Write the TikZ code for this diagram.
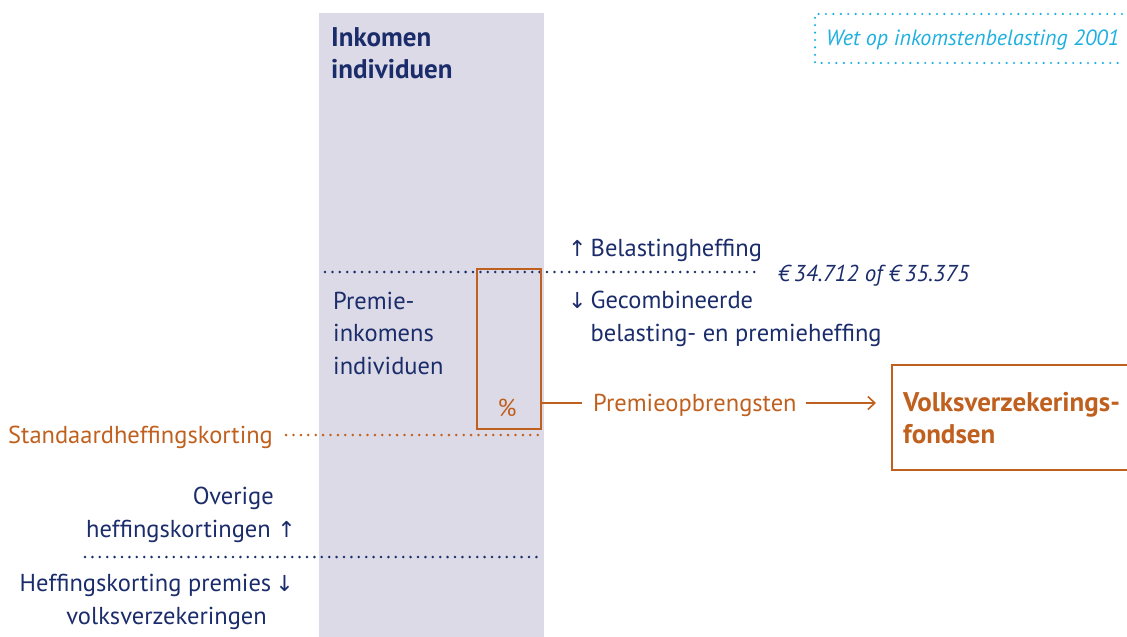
\documentclass[tikz,border=0pt]{standalone}
\usepackage{fontspec}
\setmainfont{PT Sans}
\newfontfamily\arr{DejaVu Sans}
\usetikzlibrary{arrows.meta}
\definecolor{navy}{HTML}{1B2C6B}
\definecolor{oran}{HTML}{C0601F}
\definecolor{cyanx}{HTML}{1EB0E0}
\definecolor{colgray}{HTML}{DCDAE7}
\newcommand{\up}{{\arr\fontsize{22}{30}\selectfont ↑}}
\newcommand{\dn}{{\arr\fontsize{22}{30}\selectfont ↓}}
\tikzset{
  txt/.style={inner sep=0pt, font=\fontsize{24.5}{32.5}\selectfont, text=navy},
  btxt/.style={inner sep=0pt, font=\fontsize{27}{32}\selectfont\bfseries},
  otxt/.style={txt, text=oran},
  dotline/.style={line width=2.8pt, line cap=round, dash pattern=on 0pt off 7.4pt},
  ndot/.style={dotline, draw=navy},
  odot/.style={dotline, draw=oran},
  cdot/.style={dotline, draw=cyanx, line width=2.4pt},
  obox/.style={draw=oran, line width=1.6pt},
}
\begin{document}
\begin{tikzpicture}[x=1pt,y=-1pt]
\useasboundingbox (0,0) rectangle (1127,637);
% gray column
\fill[colgray] (319,13) rectangle (544,637);
\node[btxt, text=navy, anchor=base west, align=left] (inkomen) at (331,78) {Inkomen\\individuen};
% top right source box
\coordinate (s1) at (1122,14);
\coordinate (s2) at (815,14);
\coordinate (s3) at (815,63);
\coordinate (s4) at (1122,63);
\draw[cdot] (s1) -- (s2) -- (s3) -- (s4);
\node[txt, text=cyanx, font=\fontsize{22}{30}\selectfont\itshape, anchor=base west] (wet) at (826,45) {Wet op inkomstenbelasting 2001};
% belasting line
\node[txt, anchor=base west] (bel) at (568,256) {\up\,Belastingheffing};
\node[txt, font=\fontsize{23}{30}\selectfont\itshape, anchor=base west] (grens) at (778,281) {€\,34.712 of €\,35.375};
\coordinate (gl) at (325,272);
\draw[ndot] (gl) -- ([xshift=-18pt]gl -| grens.west);
\node[txt, anchor=base west, align=left] (gecomb) at (568,341) {\dn\,Gecombineerde\\\hphantom{\dn\,}belasting- en premieheffing};
\node[txt, anchor=base west, align=left] (premink) at (333,374) {Premie-\\inkomens\\individuen};
% orange box
\node[obox, minimum width=64pt, minimum height=160pt, inner sep=0pt, anchor=north west] (pct) at (476,268) {};
\node[otxt, anchor=base] (pcts) at (507,416) {\%};
\node[otxt, anchor=base west] (opbr) at (593,411) {Premieopbrengsten};
\coordinate (py) at (0,403);
\draw[obox] (pct.east |- py) -- ([xshift=-11pt]opbr.west |- py);
\node[minimum width=250pt, minimum height=105pt, anchor=north west, inner sep=0pt] (fonds) at (892,365) {};
\draw[obox] (1130,365) -- (892,365) -- (892,470) -- (1130,470);
\node[btxt, text=oran, anchor=base west, align=left] (fondst) at (903,443) {Volksverzekerings-\\fondsen};
\draw[obox, -{Straight Barb[length=7pt,width=13pt]}] ([xshift=9pt]opbr.east |- py) -- ([xshift=-16pt]fonds.west |- py);
% standaard
\node[otxt, anchor=base west] (std) at (8,443) {Standaardheffingskorting};
\coordinate (stdend) at (543,435);
\draw[odot] ([xshift=13pt]std.east |- stdend) -- (stdend);
% overige
\node[txt, anchor=base east, align=right] (over) at (296,537) {Overige\hspace*{22pt}\\heffingskortingen \up};
\coordinate (hl1) at (85,557);
\coordinate (hl2) at (537,557);
\draw[ndot] (hl1) -- (hl2);
\node[txt, anchor=base east, align=right] (hk) at (294,624) {Heffingskorting premies\,\dn\\volksverzekeringen\hspace*{27pt}};
\end{tikzpicture}
\end{document}
